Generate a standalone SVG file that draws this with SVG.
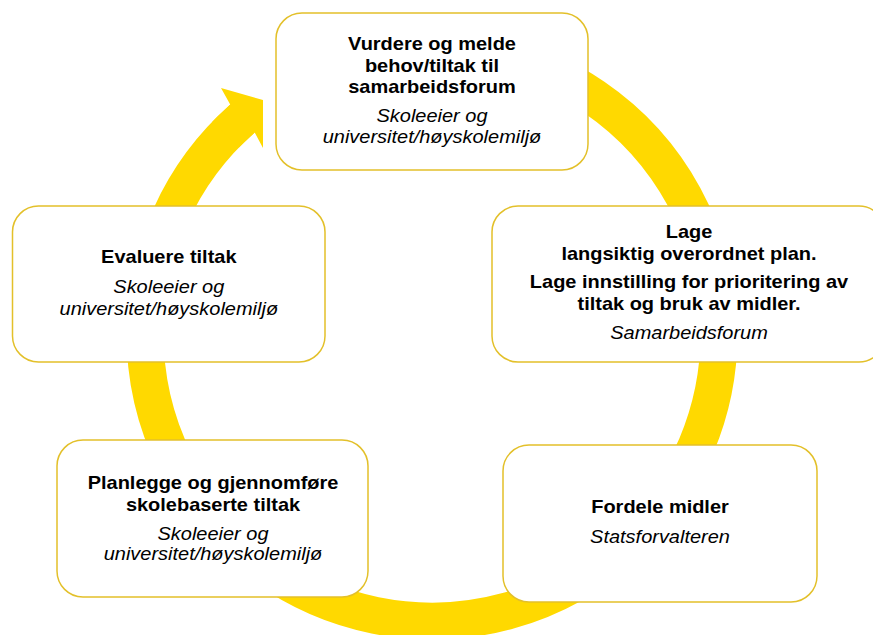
<svg xmlns="http://www.w3.org/2000/svg" width="873" height="635" viewBox="0 0 873 635">
<style>
.box{fill:#fff;stroke:#E3C02A;stroke-width:1.5}
.b{font-family:"Liberation Sans",Arial,sans-serif;font-weight:bold;font-size:18px;fill:#000;text-anchor:middle}
.i{font-family:"Liberation Sans",Arial,sans-serif;font-style:italic;font-size:18px;fill:#000;text-anchor:middle}
.ring{fill:none;stroke:#FFD900;stroke-width:37;stroke-linecap:butt}
</style>
<rect width="873" height="635" fill="#fff"/>
<g id="connectors">
<path class="ring" d="M481.8 51.4 A287 287 0 1 1 242.5 118.5"/>
<polygon fill="#FFD900" points="212.3,121.8 230.2,104.6 221,88 263,100 263,148 254.7,132.4 238.9,147.5"/>
</g>
<g id="n1">
<rect class="box" x="276" y="13" width="312" height="157" rx="26"/>
<g transform="translate(432 0) scale(1.11 1)">
<text class="b" y="50">Vurdere og melde</text>
<text class="b" y="71.7">behov/tiltak til</text>
<text class="b" y="93.3">samarbeidsforum</text>
<text class="i" y="121.7">Skoleeier og</text>
<text class="i" y="143.3">universitet/høyskolemiljø</text>
</g>
</g>
<g id="n2">
<rect class="box" x="492" y="206" width="393" height="156" rx="26"/>
<g transform="translate(689 0) scale(1.11 1)">
<text class="b" y="238.3">Lage</text>
<text class="b" y="260">langsiktig overordnet plan.</text>
<text class="b" y="288.3">Lage innstilling for prioritering av</text>
<text class="b" y="310">tiltak og bruk av midler.</text>
<text class="i" y="339.3">Samarbeidsforum</text>
</g>
</g>
<g id="n3">
<rect class="box" x="503" y="445" width="314" height="157" rx="26"/>
<g transform="translate(660 0) scale(1.11 1)">
<text class="b" y="513.3">Fordele midler</text>
<text class="i" y="543.3">Statsforvalteren</text>
</g>
</g>
<g id="n4">
<rect class="box" x="57" y="440" width="311" height="157" rx="26"/>
<g transform="translate(213 0) scale(1.11 1)">
<text class="b" y="489.3">Planlegge og gjennomføre</text>
<text class="b" y="510.7">skolebaserte tiltak</text>
<text class="i" y="540">Skoleeier og</text>
<text class="i" y="560.5">universitet/høyskolemiljø</text>
</g>
</g>
<g id="n5">
<rect class="box" x="12.5" y="206" width="312.5" height="156" rx="26"/>
<g transform="translate(168.8 0) scale(1.11 1)">
<text class="b" y="263.3">Evaluere tiltak</text>
<text class="i" y="293.3">Skoleeier og</text>
<text class="i" y="315">universitet/høyskolemiljø</text>
</g>
</g>
</svg>
